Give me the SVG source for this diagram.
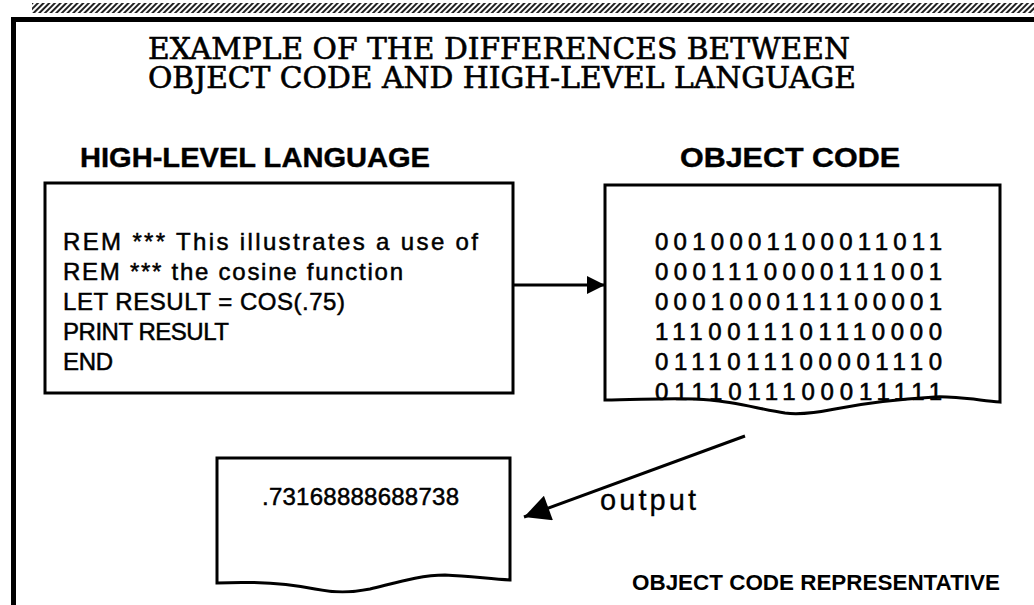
<svg xmlns="http://www.w3.org/2000/svg" width="1034" height="605" viewBox="0 0 1034 605">
  <defs>
    <pattern id="hatch" width="4" height="4" patternUnits="userSpaceOnUse" patternTransform="rotate(45)">
      <rect width="4" height="4" fill="#ffffff"/>
      <rect width="2" height="4" fill="#222222"/>
    </pattern>
    <marker id="head" viewBox="0 0 10 10" refX="10" refY="5" markerWidth="26" markerHeight="18" markerUnits="userSpaceOnUse" orient="auto">
      <path d="M0,0 L10,5 L0,10 Z" fill="#000"/>
    </marker>
    <marker id="headBig" viewBox="0 0 10 10" refX="10" refY="5" markerWidth="34" markerHeight="26" markerUnits="userSpaceOnUse" orient="auto">
      <path d="M0,0 L10,5 L0,10 Z" fill="#000"/>
    </marker>
  </defs>
  <style>
    .title { font-family: "DejaVu Serif", "Liberation Serif", serif; font-size: 29px; fill: #000; stroke: #000; stroke-width: 0.6; }
    .head { font-family: "Liberation Sans", Arial, sans-serif; font-weight: bold; font-size: 27px; fill: #000; stroke: #000; stroke-width: 0.4; }
    .code { font-family: "Liberation Sans", Arial, sans-serif; font-size: 24px; fill: #000; stroke: #000; stroke-width: 0.5; }
    .bits { font-family: "Liberation Sans", Arial, sans-serif; font-size: 24px; fill: #000; stroke: #000; stroke-width: 0.6; }
    .label { font-family: "Liberation Sans", Arial, sans-serif; font-size: 29px; fill: #000; stroke: #000; stroke-width: 0.3; }
    .small { font-family: "Liberation Sans", Arial, sans-serif; font-weight: bold; font-size: 22px; fill: #000; }
    .box { fill: #fff; stroke: #000; stroke-width: 3; }
    .wire { fill: none; stroke: #000; stroke-width: 3; }
  </style>

  <rect width="1034" height="605" fill="#fff"/>

  <!-- page frame with shaded top band -->
  <g id="frame">
    <rect x="32" y="3" width="1002" height="10" fill="url(#hatch)"/>
    <path d="M13.5,605 V19.5 H1034" fill="none" stroke="#000" stroke-width="5"/>
  </g>

  <g id="title">
    <text class="title" x="148" y="59" textLength="702" lengthAdjust="spacingAndGlyphs">EXAMPLE OF THE DIFFERENCES BETWEEN</text>
    <text class="title" x="148" y="88" textLength="708" lengthAdjust="spacingAndGlyphs">OBJECT CODE AND HIGH-LEVEL LANGUAGE</text>
  </g>

  <!-- high-level source listing -->
  <g id="source">
    <text class="head" x="80" y="167" textLength="350" lengthAdjust="spacingAndGlyphs">HIGH-LEVEL LANGUAGE</text>
    <rect class="box" x="45" y="183" width="468" height="210"/>
    <text class="code" x="63" y="250" textLength="415">REM *** This illustrates a use of</text>
    <text class="code" x="63" y="280" textLength="340">REM *** the cosine function</text>
    <text class="code" x="63" y="310" textLength="282">LET RESULT = COS(.75)</text>
    <text class="code" x="63" y="340" textLength="166">PRINT RESULT</text>
    <text class="code" x="63" y="370" textLength="50">END</text>
  </g>

  <!-- object code listing on torn paper -->
  <g id="object">
    <text class="head" x="680" y="167" textLength="220" lengthAdjust="spacingAndGlyphs">OBJECT CODE</text>
    <path class="box" d="M605,400 V185 H1000 V402 C970,399 950,396 935,397 C900,399 860,404 835,409 C815,413 800,415 785,413 C760,409 735,402 710,400 C680,397 640,400 605,400 Z"/>
    <text class="bits" x="655" y="250" textLength="287">0010001100011011</text>
    <text class="bits" x="655" y="280" textLength="287">0001110000111001</text>
    <text class="bits" x="655" y="310" textLength="287">0001000111100001</text>
    <text class="bits" x="655" y="340" textLength="287">1110011101110000</text>
    <text class="bits" x="655" y="370" textLength="287">0111011100001110</text>
    <text class="bits" x="655" y="400" textLength="287">0111011100011111</text>
  </g>

  <!-- program output on torn paper -->
  <g id="result">
    <path class="box" d="M217,583 V458 H510 V580 C490,579 470,576 445,575 C420,575 395,583 370,589 C350,593 335,593 315,589 C290,584 260,581 217,583 Z"/>
    <text class="code" x="262" y="505" textLength="197">.73168888688738</text>
  </g>

  <g id="connectors">
    <line class="wire" x1="745" y1="436" x2="524" y2="517" marker-end="url(#headBig)"/>
    <line class="wire" x1="513" y1="285" x2="605" y2="285" marker-end="url(#head)"/>
    <text class="label" x="600" y="510" textLength="96">output</text>
  </g>

  <g id="caption">
    <text class="small" x="632" y="590" textLength="368" lengthAdjust="spacingAndGlyphs">OBJECT CODE REPRESENTATIVE</text>
  </g>
</svg>
